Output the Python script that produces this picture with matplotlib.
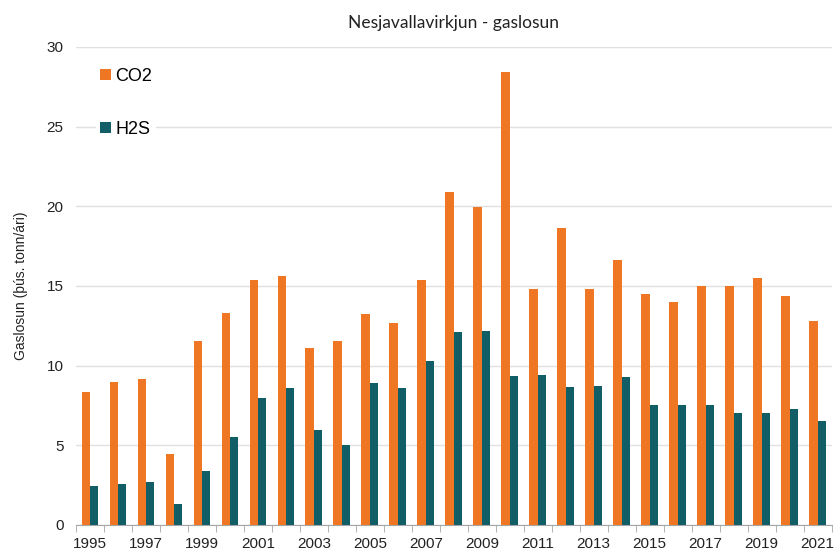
import matplotlib
matplotlib.use("Agg")
import matplotlib.pyplot as plt
import numpy as np

plt.rcParams['font.family'] = ['Liberation Sans', 'DejaVu Sans']

# Data
years = list(range(1995, 2022))
co2 = [8.35, 8.95, 9.15, 4.45, 11.55, 13.3, 15.4, 15.6, 11.1, 11.55,
       13.25, 12.7, 15.4, 20.9, 19.95, 28.4, 14.8, 18.65, 14.8, 16.6,
       14.5, 14.0, 15.0, 15.0, 15.5, 14.4, 12.8]
h2s = [2.45, 2.6, 2.7, 1.3, 3.4, 5.55, 8.0, 8.6, 5.95, 5.05,
       8.9, 8.6, 10.3, 12.1, 12.2, 9.35, 9.4, 8.65, 8.7, 9.3,
       7.5, 7.5, 7.5, 7.05, 7.05, 7.3, 6.5]

orange = '#EF7724'
teal = '#125E66'

fig = plt.figure(figsize=(8.4, 5.56), dpi=100)
ax = fig.add_axes([0.0905, 0.0558, 0.8995, 0.8597])

x = np.arange(len(years))
w = 0.3
ax.bar(x - w / 2, co2, width=w, color=orange, label='CO2', zorder=3)
ax.bar(x + w / 2, h2s, width=w, color=teal, label='H2S', zorder=3)

ax.set_xlim(-0.5, len(years) - 0.5)
ax.set_ylim(0, 30)
ax.set_yticks(range(0, 31, 5))
ax.yaxis.grid(True, color='#E0E0E0', linewidth=1, zorder=0)
ax.tick_params(axis='y', length=0, labelsize=11, pad=9, colors='#222222')

# labels every other year, tick marks at category boundaries
ax.set_xticks(x[::2])
ax.set_xticklabels([str(y) for y in years[::2]])
ax.set_xticks(np.arange(-0.5, len(years), 1), minor=True)
ax.tick_params(axis='x', which='major', length=0, labelsize=11, pad=9, colors='#222222')
ax.tick_params(axis='x', which='minor', length=5, color='#A6A6A6')

for s in ['top', 'right', 'left']:
    ax.spines[s].set_visible(False)
ax.spines['bottom'].set_color('#A6A6A6')

ax.set_ylabel('Gaslosun (þús. tonn/ári)', fontsize=10, color='#222222', labelpad=13)
ax.set_title('Nesjavallavirkjun - gaslosun', fontsize=12.5, color='#222222', pad=14,
             family=['Lato', 'DejaVu Sans'])

leg = ax.legend(loc='upper left', bbox_to_anchor=(0.015, 0.983), fontsize=13,
                frameon=True, framealpha=1, edgecolor='none', facecolor='white',
                handlelength=0.6, handleheight=0.6, handletextpad=0.25,
                labelspacing=2.0, borderpad=0.2)
leg.set_zorder(5)

fig.savefig('out.png', dpi=100)
